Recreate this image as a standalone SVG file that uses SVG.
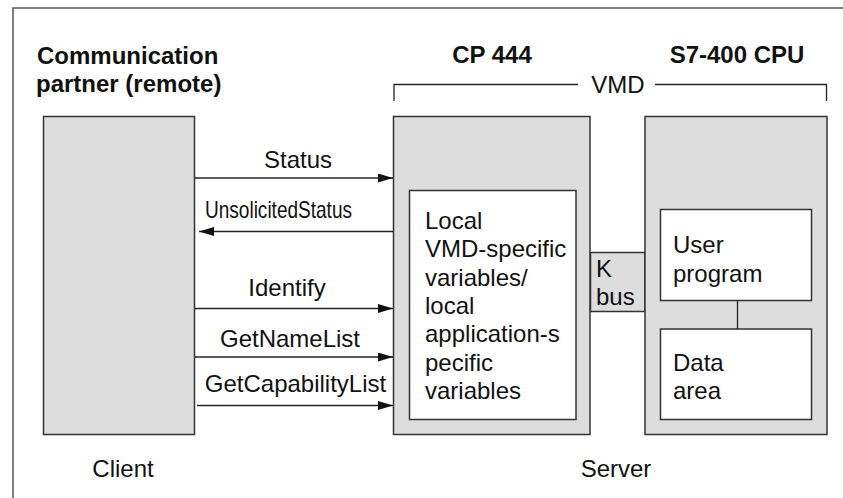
<svg xmlns="http://www.w3.org/2000/svg" width="843" height="498" viewBox="0 0 843 498">
<defs>
<style>
text{font-family:"Liberation Sans",Arial,sans-serif;font-size:24px;fill:#111}
.b{font-weight:bold}
.m{text-anchor:middle}
.box{fill:#dddddd;stroke:#333;stroke-width:1.5}
.wb{fill:#fff;stroke:#333;stroke-width:1.5}
.ln{fill:none;stroke:#222;stroke-width:1.3}
</style>
<marker id="ah" markerUnits="userSpaceOnUse" markerWidth="16" markerHeight="9" refX="15" refY="4.5" orient="auto">
<path d="M0,0 L15,4.5 L0,9 z" fill="#111"/>
</marker>
</defs>
<rect x="0" y="0" width="843" height="498" fill="#fff"/>
<path d="M13,498 V8 H843" fill="none" stroke="#555" stroke-width="1.5"/>
<g id="headings">
<text class="b" x="37" y="64">Communication</text>
<text class="b" x="36" y="92">partner (remote)</text>
<text class="b m" x="492" y="63">CP 444</text>
<text class="b m" x="737" y="63">S7-400 CPU</text>
</g>
<g id="vmd">
<path class="ln" d="M394,101 V84.5 H578 M655,84.5 H826.5 V101"/>
<text class="m" x="618" y="93">VMD</text>
</g>
<g id="client">
<rect class="box" x="43.5" y="116.5" width="151" height="318"/>
<text class="m" x="123" y="477">Client</text>
</g>
<g id="cp444">
<rect class="box" x="393.5" y="116.5" width="196.5" height="318"/>
<rect class="wb" x="409.5" y="190.5" width="166.5" height="229"/>
<text x="425" y="229">Local</text>
<text x="425" y="257.3">VMD-specific</text>
<text x="425" y="285.6">variables/</text>
<text x="425" y="313.9">local</text>
<text x="425" y="342.2">application-s</text>
<text x="425" y="370.5">pecific</text>
<text x="425" y="398.8">variables</text>
</g>
<g id="kbus">
<rect class="box" x="590.5" y="252.5" width="54.5" height="59"/>
<text x="596" y="277">K</text>
<text x="596" y="305">bus</text>
</g>
<g id="cpu">
<rect class="box" x="645" y="116.5" width="182" height="318"/>
<rect class="wb" x="660.5" y="209.5" width="151" height="91"/>
<text x="673" y="252.5">User</text>
<text x="673" y="281.5">program</text>
<rect class="wb" x="660.5" y="329" width="151" height="90.5"/>
<text x="673" y="370.5">Data</text>
<text x="673" y="399">area</text>
</g>
<text class="m" x="616" y="477">Server</text>
<g id="connectors">
<line class="ln" x1="737.5" y1="300.5" x2="737.5" y2="329"/>
<line class="ln" x1="195" y1="178" x2="393" y2="178" marker-end="url(#ah)"/>
<line class="ln" x1="393" y1="231.5" x2="199" y2="231.5" marker-end="url(#ah)"/>
<line class="ln" x1="195" y1="308.5" x2="393" y2="308.5" marker-end="url(#ah)"/>
<line class="ln" x1="195" y1="357" x2="393" y2="357" marker-end="url(#ah)"/>
<line class="ln" x1="197" y1="405.5" x2="393" y2="405.5" marker-end="url(#ah)"/>
<text class="m" x="298" y="168">Status</text>
<text x="205" y="218" textLength="147" lengthAdjust="spacingAndGlyphs">UnsolicitedStatus</text>
<text class="m" x="287" y="296">Identify</text>
<text class="m" x="290" y="346.5">GetNameList</text>
<text class="m" x="295.5" y="392">GetCapabilityList</text>
</g>
</svg>
